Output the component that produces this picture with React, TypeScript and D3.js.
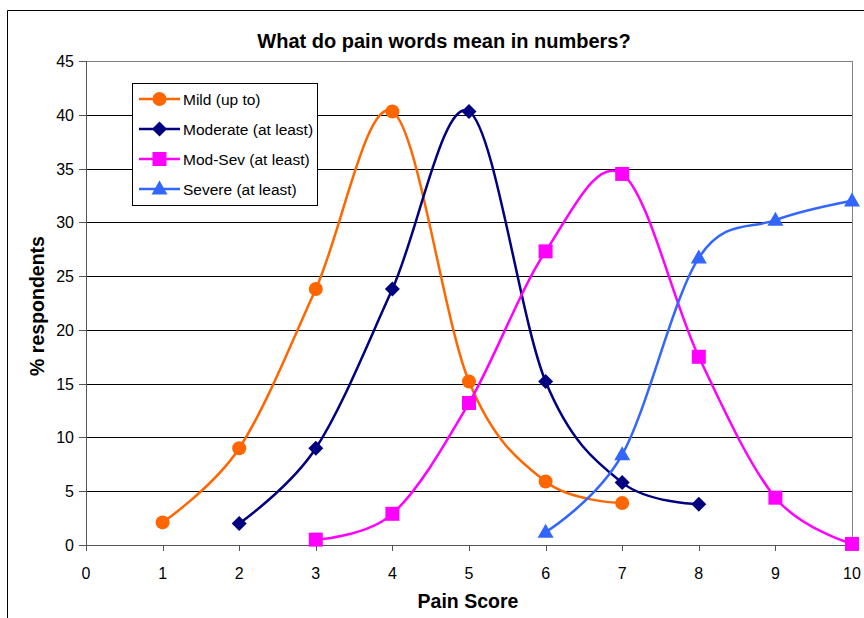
import React from 'react';
import * as d3 from 'd3';

const seriesNames = ['Mild (up to)', 'Moderate (at least)', 'Mod-Sev (at least)', 'Severe (at least)'];
const seriesColors = ['#FF6600', '#000080', '#FF00FF', '#3366FF'];
const seriesMarkers = ['circle', 'diamond', 'square', 'triangle'];

const mildX = [1, 2, 3, 4, 5, 6, 7];
const mildY = [2.1, 9.0, 23.8, 40.3, 15.2, 5.9, 3.9];
const moderateX = [2, 3, 4, 5, 6, 7, 8];
const moderateY = [2.0, 9.0, 23.8, 40.3, 15.2, 5.8, 3.8];
const modSevX = [3, 4, 5, 6, 7, 8, 9, 10];
const modSevY = [0.5, 2.9, 13.2, 27.3, 34.5, 17.5, 4.4, 0.1];
const severeX = [6, 7, 8, 9, 10];
const severeY = [1.2, 8.4, 26.7, 30.2, 32.0];

const xTicks = [0, 1, 2, 3, 4, 5, 6, 7, 8, 9, 10];
const yTicks = [0, 5, 10, 15, 20, 25, 30, 35, 40, 45];

const FONT = '"Liberation Sans", Arial, sans-serif';

const Marker: React.FC<{ kind: string; x: number; y: number; color: string }> = ({ kind, x, y, color }) => {
    if (kind === 'circle') return <circle cx={x} cy={y} r={7} fill={color} />;
    if (kind === 'diamond') {
        const s = 7.5;
        return <path d={`M${x},${y - s}L${x + s},${y}L${x},${y + s}L${x - s},${y}Z`} fill={color} />;
    }
    if (kind === 'square') return <rect x={x - 7} y={y - 7} width={14} height={14} fill={color} />;
    const h = 14;
    return <path d={`M${x},${y - h * 0.6}L${x + 8},${y + h * 0.4}L${x - 8},${y + h * 0.4}Z`} fill={color} />;
};

const App: React.FC = () => {
    const left = 86, right = 852, top = 61, bottom = 545;
    const x = d3.scaleLinear().domain([0, 10]).range([left, right]);
    const y = d3.scaleLinear().domain([0, 45]).range([bottom, top]);

    const series = [
        { xs: mildX, ys: mildY },
        { xs: moderateX, ys: moderateY },
        { xs: modSevX, ys: modSevY },
        { xs: severeX, ys: severeY },
    ];

    const line = d3.line<[number, number]>()
        .x(d => x(d[0]))
        .y(d => y(d[1]))
        .curve(d3.curveCardinal.tension(0));

    return (
        <svg width={864} height={618} style={{ position: 'absolute', left: 0, top: 0 }} fontFamily={FONT}>
            <rect x={0} y={0} width={864} height={618} fill="#fff" />
            <path d="M7.5,618V10.5H864" fill="none" stroke="#000" strokeWidth={1} />
            <text x={444} y={48} textAnchor="middle" fontSize={20} fontWeight="bold">What do pain words mean in numbers?</text>

            {yTicks.slice(1, -1).map(t => (
                <line key={t} x1={left} x2={right} y1={Math.round(y(t)) + 0.5} y2={Math.round(y(t)) + 0.5} stroke="#000" />
            ))}
            <line x1={left} x2={right} y1={top + 0.5} y2={top + 0.5} stroke="#808080" />
            <line x1={right + 0.5} x2={right + 0.5} y1={top} y2={bottom} stroke="#808080" />

            {/* y axis */}
            <line x1={left + 0.5} x2={left + 0.5} y1={top} y2={bottom} stroke="#555" />
            {yTicks.map(t => (
                <g key={t}>
                    <line x1={left - 7} x2={left} y1={Math.round(y(t)) + 0.5} y2={Math.round(y(t)) + 0.5} stroke="#555" />
                    <text x={left - 12} y={y(t) + 6} textAnchor="end" fontSize={16}>{t}</text>
                </g>
            ))}
            {/* x axis */}
            <line x1={left} x2={right} y1={bottom + 0.5} y2={bottom + 0.5} stroke="#555" />
            {xTicks.map(t => (
                <g key={t}>
                    <line x1={Math.round(x(t)) + 0.5} x2={Math.round(x(t)) + 0.5} y1={bottom} y2={bottom + 6} stroke="#555" />
                    <text x={x(t)} y={579} textAnchor="middle" fontSize={16}>{t}</text>
                </g>
            ))}

            <text x={468} y={608} textAnchor="middle" fontSize={19.5} fontWeight="bold">Pain Score</text>
            <text transform="translate(44,306) rotate(-90)" textAnchor="middle" fontSize={19.5} fontWeight="bold">% respondents</text>

            {series.map((s, i) => {
                const pts = s.xs.map((v, j) => [v, s.ys[j]] as [number, number]);
                return (
                    <g key={i}>
                        <path d={line(pts) || ''} fill="none" stroke={seriesColors[i]} strokeWidth={2.5} />
                        {pts.map((p, j) => (
                            <Marker key={j} kind={seriesMarkers[i]} x={x(p[0])} y={y(p[1])} color={seriesColors[i]} />
                        ))}
                    </g>
                );
            })}

            {/* legend */}
            <rect x={132.5} y={83.5} width={185} height={122} fill="#fff" stroke="#000" />
            {seriesNames.map((n, i) => {
                const ly = 99 + i * 30;
                return (
                    <g key={n}>
                        <line x1={139} x2={180} y1={ly} y2={ly} stroke={seriesColors[i]} strokeWidth={2.5} />
                        <Marker kind={seriesMarkers[i]} x={159.5} y={ly} color={seriesColors[i]} />
                        <text x={183} y={ly + 5.5} fontSize={15.5}>{n}</text>
                    </g>
                );
            })}
        </svg>
    );
};

export default App;
